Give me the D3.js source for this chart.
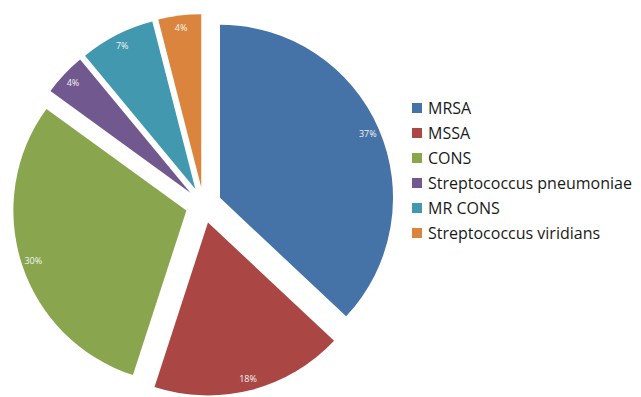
<!DOCTYPE html>
<html><head><meta charset="utf-8">
<script src="https://cdn.jsdelivr.net/npm/d3@7"></script>
<style>body{margin:0;background:#fff}svg{display:block}</style>
</head><body>
<svg id="c" width="641" height="397"></svg>
<script>
const categories = ["MRSA","MSSA","CONS","Streptococcus pneumoniae","MR CONS","Streptococcus viridians"];
const values = [37,18,30,4,7,4];
const colors = ["#4572A7","#AA4643","#89A54E","#71588F","#4198AF","#DB843D"];

const svg = d3.select("#c");
const cx = 203.5, cy = 205, R = 173, explode = 18, labelR = 161;
const data = categories.map((c,i)=>({name:c,value:values[i],color:colors[i]}));
const pie = d3.pie().value(d=>d.value).sort(null).startAngle(0).endAngle(2*Math.PI);
const arcs = pie(data);
const arc = d3.arc().innerRadius(0).outerRadius(R);
const total = d3.sum(values);

const g = svg.append("g").attr("transform",`translate(${cx},${cy})`);
const sl = g.selectAll("g.s").data(arcs).enter().append("g")
  .attr("transform", d=>{
    const a=(d.startAngle+d.endAngle)/2;
    return `translate(${explode*Math.sin(a)},${-explode*Math.cos(a)})`;
  });
sl.append("path").attr("d",arc).attr("fill",d=>d.data.color);
sl.append("text")
  .attr("x",d=>{const a=(d.startAngle+d.endAngle)/2;return labelR*Math.sin(a);})
  .attr("y",d=>{const a=(d.startAngle+d.endAngle)/2;return -labelR*Math.cos(a);})
  .attr("text-anchor","middle").attr("dominant-baseline","central")
  .attr("font-family","'Open Sans', Lato, sans-serif").attr("font-size",9)
  .attr("fill","#f4f4f4")
  .text(d=>Math.round(d.data.value/total*100)+"%");

const lg = svg.append("g").attr("transform","translate(412,108)");
const rows = lg.selectAll("g").data(data).enter().append("g")
  .attr("transform",(d,i)=>`translate(0,${i*25})`);
rows.append("rect").attr("x",0).attr("y",-5).attr("width",10).attr("height",10).attr("fill",d=>d.color);
rows.append("text").attr("x",16).attr("y",0).attr("dominant-baseline","central")
  .attr("font-family","'Open Sans', Lato, sans-serif").attr("font-size",16).attr("fill","#1a1a1a")
  .text(d=>d.name);
</script>
</body></html>
